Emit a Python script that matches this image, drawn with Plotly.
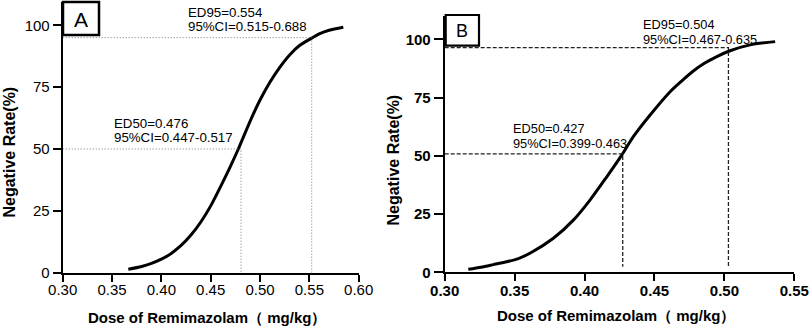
import plotly.graph_objects as go

# ---------------- data ----------------
dose_a = [0.3665, 0.380, 0.390, 0.400, 0.410, 0.420, 0.430, 0.440, 0.450, 0.460, 0.470, 0.478,
          0.490, 0.500, 0.510, 0.520, 0.530, 0.540, 0.5524, 0.560, 0.570, 0.5844]
rate_a = [1.4, 2.5, 3.8, 5.5, 7.8, 11.0, 15.2, 20.5, 27.0, 34.8, 43.0, 50.0,
          61.3, 69.8, 77.0, 83.0, 88.0, 91.8, 94.8, 96.5, 98.0, 99.2]

dose_b = [0.3169, 0.3260, 0.3348, 0.3440, 0.3527, 0.3622, 0.3777, 0.3920, 0.4039, 0.4159, 0.4266, 0.4349,
          0.4469, 0.4612, 0.4700, 0.4778, 0.4860, 0.4946, 0.5041, 0.5184, 0.5363]
rate_b = [1.3, 2.2, 3.3, 4.5, 5.9, 8.6, 14.6, 22.4, 31.0, 41.0, 50.3, 58.2,
          67.5, 77.5, 82.4, 86.4, 89.8, 92.6, 95.1, 97.6, 99.0]

# reference lines: (x of vertical, y of horizontal)
ed50_a = (0.4807, 50.0)
ed95_a = (0.5524, 95.0)
ed50_b = (0.4273, 50.8)
ed95_b = (0.5029, 96.4)

label_a_ed50 = ["ED50=0.476", "95%CI=0.447-0.517"]
label_a_ed95 = ["ED95=0.554", "95%CI=0.515-0.688"]
label_b_ed50 = ["ED50=0.427", "95%CI=0.399-0.463"]
label_b_ed95 = ["ED95=0.504", "95%CI=0.467-0.635"]

x_ticks_a = [0.30, 0.35, 0.40, 0.45, 0.50, 0.55, 0.60]
x_ticks_b = [0.30, 0.35, 0.40, 0.45, 0.50, 0.55]
y_ticks = [0, 25, 50, 75, 100]

x_title = "Dose of Remimazolam\uff08 mg/kg\uff09"
y_title = "Negative Rate(%)"

# ---------------- layout helpers ----------------
W, H = 809, 328
def px(x):
    return x / W
def py(y):
    return 1 - y / H

FONT = "Liberation Sans, Arial, sans-serif"

fig = go.Figure()

# curves
fig.add_trace(go.Scatter(x=dose_a, y=rate_a, mode="lines", line=dict(color="black", width=3, shape="spline", smoothing=0.8),
                         xaxis="x", yaxis="y", showlegend=False, hoverinfo="skip"))
fig.add_trace(go.Scatter(x=dose_b, y=rate_b, mode="lines", line=dict(color="black", width=3, shape="spline", smoothing=0.8),
                         xaxis="x2", yaxis="y2", showlegend=False, hoverinfo="skip"))

# reference lines panel A (dotted grey)
for (vx, hy) in (ed50_a, ed95_a):
    fig.add_trace(go.Scatter(x=[0.30, vx, vx], y=[hy, hy, 0], mode="lines",
                             line=dict(color="#777777", width=1, dash="1px,2px"),
                             xaxis="x", yaxis="y", showlegend=False, hoverinfo="skip"))
# reference lines panel B (dashed black)
for (vx, hy) in (ed50_b, ed95_b):
    fig.add_trace(go.Scatter(x=[0.30, vx, vx], y=[hy, hy, 2.4], mode="lines",
                             line=dict(color="#222222", width=1.3, dash="4px,2px"),
                             xaxis="x2", yaxis="y2", showlegend=False, hoverinfo="skip"))

axis_common = dict(showgrid=False, zeroline=False, showline=True, linecolor="black", linewidth=2,
                   ticks="outside", tickcolor="black", tickwidth=2, mirror=False, automargin=False)

fig.update_layout(
    template="none",
    width=W, height=H,
    margin=dict(l=0, r=0, t=0, b=0, pad=0),
    paper_bgcolor="white", plot_bgcolor="white",
    font=dict(family=FONT, color="black"),
    xaxis=dict(domain=[px(62.7), px(358.7)], range=[0.30, 0.60], tickvals=x_ticks_a,
               ticktext=[f"{v:.2f}" for v in x_ticks_a], ticklen=7, anchor="y", ticklabelstandoff=-5,
               tickfont=dict(family=FONT, size=15, color="black"), **axis_common),
    yaxis=dict(domain=[py(272.7), py(2)], range=[0, 109.4], tickvals=y_ticks, ticklen=8, anchor="x",
               tickfont=dict(family=FONT, size=15, color="black"), **axis_common),
    xaxis2=dict(domain=[px(444.7), px(794.3)], range=[0.30, 0.55], tickvals=x_ticks_b,
                ticktext=[f"<b>{v:.2f}</b>" for v in x_ticks_b], ticklen=7, anchor="y2", ticklabelstandoff=-3,
                tickfont=dict(family=FONT, size=15, color="black"), **axis_common),
    yaxis2=dict(domain=[py(272.3), py(16)], range=[0, 110], tickvals=y_ticks,
                ticktext=[f"<b>{v}</b>" for v in y_ticks], ticklen=9, anchor="x2",
                tickfont=dict(family=FONT, size=15, color="black"), **axis_common),
)

# panel label boxes
fig.add_shape(type="rect", xref="paper", yref="paper", x0=px(63), x1=px(99), y0=py(35), y1=py(2),
              line=dict(color="black", width=2.5), fillcolor="white", layer="above")
fig.add_shape(type="rect", xref="paper", yref="paper", x0=px(445.7), x1=px(479), y0=py(45.7), y1=py(15),
              line=dict(color="black", width=2.2), fillcolor="white", layer="above")

ann = []
def text(x, y, s, size=13.3, bold=False, xanchor="left", angle=0, height=None):
    d = dict(x=px(x), y=py(y), xref="paper", yref="paper", text=(f"<b>{s}</b>" if bold else s),
             showarrow=False, xanchor=xanchor, yanchor="middle", textangle=angle,
             font=dict(family=FONT, size=size, color="black"))
    if height is not None:
        d["height"] = height
    ann.append(d)

text(81, 19, "A", size=21, xanchor="center")
text(462.3, 30.5, "B", size=18, xanchor="center")

text(185.7, 12, label_a_ed95[0], height=14)
text(185.7, 26, label_a_ed95[1], height=14)
text(112.3, 123, label_a_ed50[0], height=14)
text(112.3, 137, label_a_ed50[1], height=14)
text(641.3, 24, label_b_ed95[0], size=12.8, height=14)
text(641.3, 39, label_b_ed95[1], size=12.8, height=14)
text(511, 128, label_b_ed50[0], size=12.8, height=14)
text(511, 143, label_b_ed50[1], size=12.8, height=14)

text(207.5, 317, x_title, size=15, bold=True, xanchor="center")
text(616, 315.5, x_title, size=15, bold=True, xanchor="center")
text(8.5, 152, y_title, size=16, bold=True, xanchor="center", angle=-90)
text(392.5, 160, y_title, size=16, bold=True, xanchor="center", angle=-90)

fig.update_layout(annotations=ann)

fig.write_html("out.html", config={"displayModeBar": False},
               post_script="document.body.style.margin='0';document.body.style.overflow='hidden';")
